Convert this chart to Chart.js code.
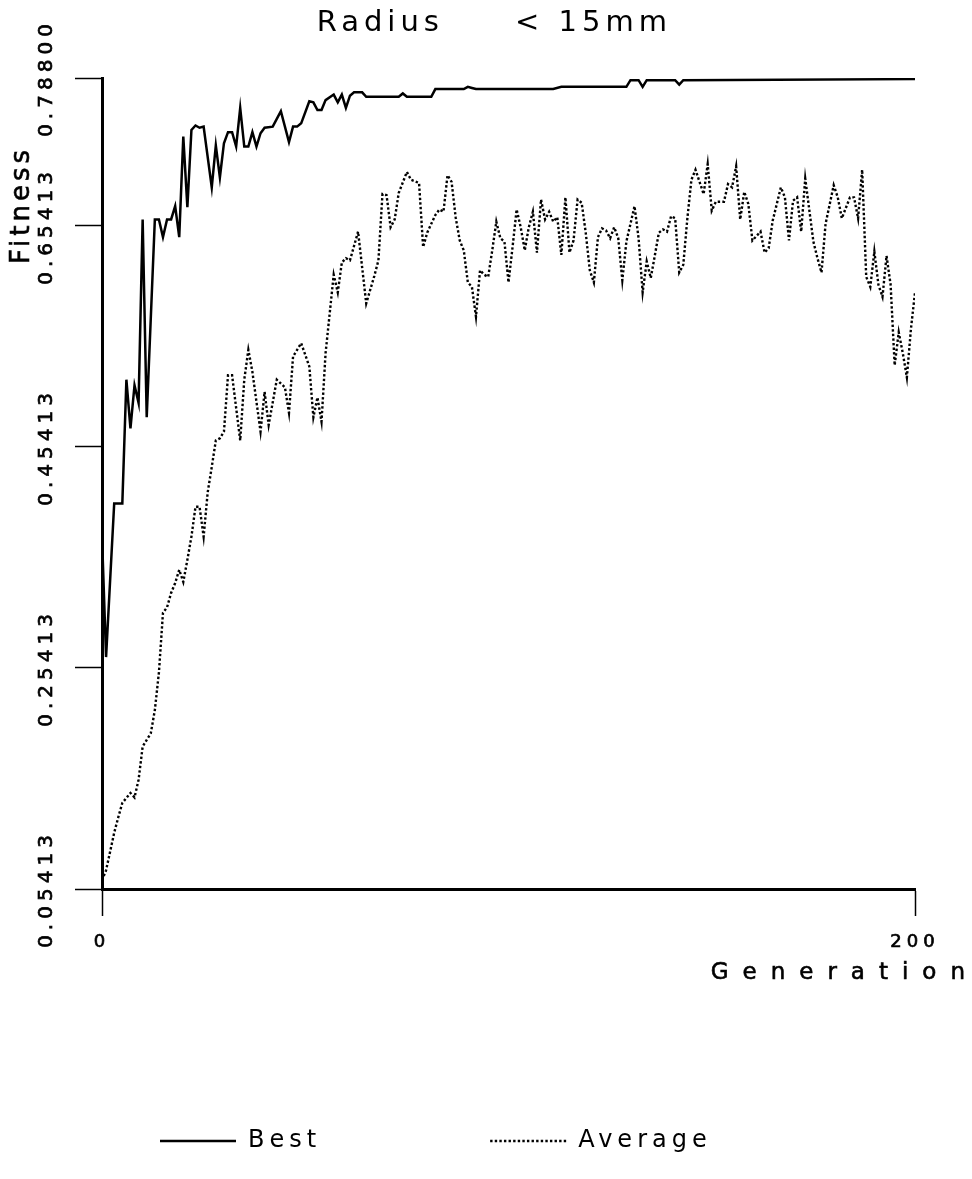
<!DOCTYPE html>
<html>
<head>
<meta charset="utf-8">
<script src="https://cdn.jsdelivr.net/npm/chart.js@4.4.1/dist/chart.umd.min.js"></script>
<style>
  html, body { margin: 0; padding: 0; background: #fff; }
  canvas { display: block; }
</style>
</head>
<body>
<canvas id="fitnessChart" width="972" height="1179"></canvas>
<script>
// Plotter-style lettering used for every caption
const FONT = '"DejaVu Sans", "Liberation Sans", sans-serif';

const titleText = 'Radius     < 15mm  ';
const xAxisTitle = 'Generation';
const yAxisTitle = 'Fitness';
const seriesNames = ['Best', 'Average'];

const xTickValues = [0, 200];
const yTickValues = [0.05413, 0.25413, 0.45413, 0.65413, 0.788];

// Best individual per generation
const bestGen = [0, 1, 3, 5, 6, 7, 8, 9, 10, 11, 13, 14, 15, 16, 17, 18, 19, 20, 21, 22,
  23, 24, 25, 27, 28, 29, 30, 31, 32, 33, 34, 35, 36, 37, 38, 39, 40, 42, 44, 46,
  47, 48, 49, 51, 52, 53, 54, 55, 57, 58, 59, 60, 61, 62, 64, 65, 73, 74, 75, 81,
  82, 89, 90, 91, 92, 111, 113, 129, 130, 132, 133, 134, 141, 142, 143, 200];
const bestFit = [0.373, 0.264, 0.403, 0.403, 0.515, 0.471, 0.510, 0.494, 0.660, 0.481,
  0.660, 0.660, 0.644, 0.660, 0.660, 0.672, 0.644, 0.735, 0.671, 0.741,
  0.745, 0.743, 0.744, 0.689, 0.727, 0.698, 0.729, 0.739, 0.739, 0.726,
  0.761, 0.726, 0.726, 0.739, 0.726, 0.738, 0.743, 0.744, 0.758, 0.730,
  0.744, 0.744, 0.747, 0.767, 0.766, 0.759, 0.759, 0.768, 0.773, 0.766,
  0.773, 0.761, 0.772, 0.775, 0.775, 0.771, 0.771, 0.774, 0.771, 0.771,
  0.778, 0.778, 0.780, 0.779, 0.778, 0.778, 0.780, 0.780, 0.786, 0.786,
  0.780, 0.786, 0.786, 0.782, 0.786, 0.787];

// Population average per generation
const avgGen = [0, 1, 3, 4, 5, 7, 8, 9, 10, 11, 12, 13, 14, 15, 16, 17, 18, 19, 20, 21,
  22, 23, 24, 25, 26, 27, 28, 29, 30, 31, 32, 34, 35, 36, 37, 39, 40, 41, 43, 45,
  46, 47, 49, 51, 52, 53, 54, 55, 57, 58, 59, 60, 61, 63, 65, 67, 68, 69, 70, 71,
  72, 73, 75, 76, 78, 79, 80, 82, 83, 84, 85, 86, 87, 88, 89, 90, 91, 92, 93, 94,
  95, 96, 97, 98, 99, 100, 101, 102, 103, 104, 105, 106, 107, 108, 109, 110, 111, 112, 113, 114,
  115, 116, 117, 118, 119, 120, 121, 122, 123, 124, 125, 126, 127, 128, 129, 131, 132, 133, 134, 135,
  137, 138, 139, 140, 141, 142, 143, 144, 145, 146, 148, 149, 150, 151, 153, 154, 155, 156, 157, 158,
  159, 160, 161, 162, 163, 164, 165, 167, 168, 169, 170, 171, 172, 173, 175, 176, 177, 178, 180, 181,
  182, 184, 185, 186, 187, 188, 189, 190, 191, 192, 193, 194, 195, 196, 197, 198, 199, 200];
const avgFit = [0.062, 0.071, 0.105, 0.119, 0.132, 0.141, 0.137, 0.153, 0.183, 0.189,
  0.195, 0.216, 0.250, 0.304, 0.309, 0.322, 0.331, 0.343, 0.332, 0.352,
  0.373, 0.400, 0.400, 0.373, 0.413, 0.436, 0.460, 0.462, 0.468, 0.519,
  0.519, 0.460, 0.515, 0.542, 0.522, 0.468, 0.504, 0.474, 0.515, 0.508,
  0.485, 0.536, 0.548, 0.527, 0.481, 0.499, 0.477, 0.539, 0.610, 0.594,
  0.621, 0.625, 0.623, 0.649, 0.584, 0.609, 0.623, 0.683, 0.682, 0.653,
  0.660, 0.684, 0.703, 0.696, 0.693, 0.635, 0.648, 0.664, 0.669, 0.667,
  0.700, 0.694, 0.662, 0.641, 0.632, 0.603, 0.599, 0.572, 0.614, 0.610,
  0.608, 0.632, 0.658, 0.643, 0.640, 0.603, 0.635, 0.669, 0.653, 0.632,
  0.653, 0.667, 0.630, 0.678, 0.660, 0.667, 0.658, 0.662, 0.628, 0.680,
  0.630, 0.641, 0.678, 0.675, 0.648, 0.614, 0.603, 0.644, 0.652, 0.650,
  0.643, 0.653, 0.643, 0.605, 0.640, 0.672, 0.643, 0.594, 0.622, 0.607,
  0.648, 0.651, 0.649, 0.663, 0.661, 0.612, 0.619, 0.661, 0.696, 0.705,
  0.683, 0.710, 0.668, 0.676, 0.676, 0.692, 0.689, 0.708, 0.660, 0.685,
  0.674, 0.641, 0.645, 0.649, 0.630, 0.634, 0.659, 0.689, 0.680, 0.641,
  0.677, 0.680, 0.649, 0.697, 0.640, 0.625, 0.612, 0.656, 0.691, 0.680,
  0.661, 0.680, 0.680, 0.661, 0.705, 0.608, 0.599, 0.631, 0.601, 0.590,
  0.627, 0.601, 0.528, 0.558, 0.539, 0.517, 0.561, 0.594];

const toPoints = (gens, vals) => gens.map((g, i) => ({ x: g, y: vals[i] }));

// Wide letter spacing for all chart text, plus the two axis captions
const TEXT_SPACING = '5px';
const plotterText = {
  id: 'plotterText',
  beforeLayout(chart) { chart.ctx.letterSpacing = TEXT_SPACING; },
  beforeDraw(chart) { chart.ctx.letterSpacing = TEXT_SPACING; },
  afterDraw(chart) {
    const { ctx } = chart;
    const { x, y } = chart.scales;
    ctx.save();
    ctx.fillStyle = '#000';
    ctx.strokeStyle = '#000';
    ctx.lineWidth = 0.6;
    ctx.textBaseline = 'middle';

    // vertical caption, reading upward
    ctx.save();
    ctx.letterSpacing = '4px';
    ctx.font = `26px ${FONT}`;
    ctx.textAlign = 'center';
    ctx.translate(22, y.top + 127);
    ctx.rotate(-Math.PI / 2);
    ctx.fillText(yAxisTitle, 0, 0);
    ctx.strokeText(yAxisTitle, 0, 0);
    ctx.restore();

    // horizontal caption, running past the end of the axis
    ctx.letterSpacing = '14px';
    ctx.font = `23px ${FONT}`;
    ctx.textAlign = 'right';
    ctx.fillText(xAxisTitle, x.right + 64, x.top + 84);
    ctx.strokeText(xAxisTitle, x.right + 64, x.top + 84);
    ctx.restore();
  }
};

const axisGrid = {
  drawOnChartArea: false,
  drawTicks: true,
  tickLength: 27,
  tickWidth: 1.5,
  tickColor: '#000'
};
const axisBorder = { display: true, color: '#000', width: 3 };

new Chart(document.getElementById('fitnessChart'), {
  type: 'line',
  data: {
    datasets: [
      {
        label: seriesNames[0],
        data: toPoints(bestGen, bestFit),
        borderColor: '#000',
        backgroundColor: '#000',
        borderWidth: 2.5,
        pointRadius: 0,
        tension: 0,
        fill: false
      },
      {
        label: seriesNames[1],
        data: toPoints(avgGen, avgFit),
        borderColor: '#000',
        backgroundColor: '#000',
        borderWidth: 2.4,
        borderDash: [2.4, 2.2],
        pointRadius: 0,
        tension: 0,
        fill: false
      }
    ]
  },
  options: {
    responsive: false,
    animation: false,
    devicePixelRatio: 1,
    layout: { padding: { top: 0, left: -9, right: 57, bottom: 16 } },
    plugins: {
      title: {
        display: true,
        text: titleText,
        fullSize: false,
        color: '#000',
        font: { family: FONT, size: 29, weight: 'normal', lineHeight: 1.2 },
        padding: { top: 6, bottom: 37.2 }
      },
      legend: {
        position: 'bottom',
        align: 'start',
        labels: {
          usePointStyle: true,
          pointStyle: 'line',
          pointStyleWidth: 76,
          padding: 169,
          color: '#000',
          font: { family: FONT, size: 24, weight: 'normal' },
          generateLabels(chart) {
            const items = Chart.defaults.plugins.legend.labels.generateLabels(chart);
            return items.map(item => {
              const ds = chart.data.datasets[item.datasetIndex];
              return Object.assign(item, {
                lineDash: ds.borderDash || [],
                lineWidth: ds.borderWidth,
                strokeStyle: ds.borderColor
              });
            });
          }
        }
      },
      tooltip: { enabled: false }
    },
    scales: {
      x: {
        type: 'linear',
        min: 0,
        max: 200,
        afterBuildTicks: s => { s.ticks = xTickValues.map(v => ({ value: v })); },
        afterFit: s => { s.height = 71; },
        grid: axisGrid,
        border: axisBorder,
        ticks: {
          color: '#000',
          font: { family: FONT, size: 18 },
          textStrokeColor: '#000',
          textStrokeWidth: 0.7,
          padding: 16,
          maxRotation: 0,
          autoSkip: false
        }
      },
      y: {
        type: 'linear',
        min: 0.05413,
        max: 0.788,
        afterBuildTicks: s => { s.ticks = yTickValues.map(v => ({ value: v })); },
        afterFit: s => { s.width = 111; },
        grid: axisGrid,
        border: axisBorder,
        ticks: {
          color: '#000',
          font: { family: FONT, size: 20 },
          textStrokeColor: '#000',
          textStrokeWidth: 0.7,
          padding: -31,
          minRotation: 90,
          maxRotation: 90,
          crossAlign: 'center',
          autoSkip: false,
          callback: v => Number(v).toFixed(5)
        }
      }
    }
  },
  plugins: [plotterText]
});
</script>
</body>
</html>
